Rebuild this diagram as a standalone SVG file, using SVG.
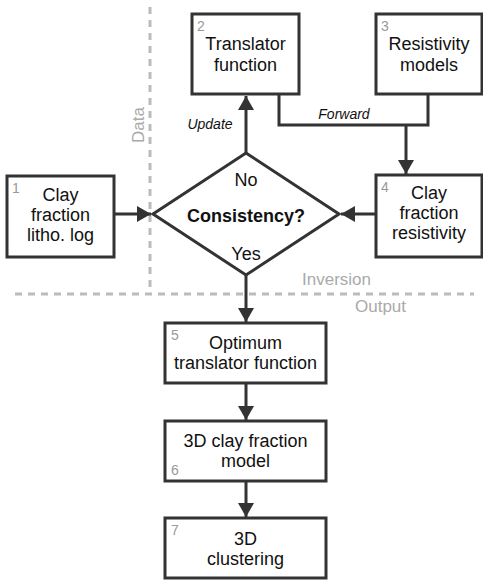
<svg xmlns="http://www.w3.org/2000/svg" width="483" height="581" viewBox="0 0 483 581">
<defs>
<style>
.box{fill:#fff;stroke:#333;stroke-width:3}
.t{font-family:"Liberation Sans",Arial,sans-serif;font-size:18px;fill:#111;text-anchor:middle}
.n{font-family:"Liberation Sans",Arial,sans-serif;font-size:14px;fill:#999}
.lab{font-family:"Liberation Sans",Arial,sans-serif;font-size:14px;font-style:italic;fill:#111;text-anchor:middle}
.zone{font-family:"Liberation Sans",Arial,sans-serif;font-size:17px;fill:#aaa}
.dash{stroke:#bbb;stroke-width:3;stroke-dasharray:7 6;fill:none}
.c{stroke:#333;stroke-width:3;fill:none}
</style>
<marker id="a" viewBox="0 0 14 16" refX="14" refY="8" markerWidth="14" markerHeight="16" orient="auto" markerUnits="userSpaceOnUse">
<path d="M0,0 L14,8 L0,16 z" fill="#333"/>
</marker>
</defs>
<g id="zones">
<line class="dash" x1="150" y1="7" x2="150" y2="292"/>
<line class="dash" x1="15" y1="294" x2="474" y2="294"/>
<text class="zone" transform="translate(144,125) rotate(-90)" text-anchor="middle">Data</text>
<text class="zone" x="302" y="285">Inversion</text>
<text class="zone" x="355" y="312">Output</text>
</g>
<g id="connectors">
<line class="c" x1="246" y1="153" x2="246" y2="96" marker-end="url(#a)"/>
<polyline class="c" points="279,94 279,125 428,125 428,94"/>
<line class="c" x1="406" y1="125" x2="406" y2="174" marker-end="url(#a)"/>
<line class="c" x1="114" y1="214" x2="151" y2="214" marker-end="url(#a)"/>
<line class="c" x1="376" y1="214" x2="341" y2="214" marker-end="url(#a)"/>
<line class="c" x1="246" y1="275" x2="246" y2="322" marker-end="url(#a)"/>
<line class="c" x1="246" y1="383" x2="246" y2="420" marker-end="url(#a)"/>
<line class="c" x1="246" y1="481" x2="246" y2="517" marker-end="url(#a)"/>
<text class="lab" x="210" y="129">Update</text>
<text class="lab" x="344" y="119">Forward</text>
</g>
<g id="n1">
<rect class="box" x="7" y="176" width="107" height="81"/>
<text class="n" x="12" y="193">1</text>
<text class="t" x="60.5" y="201">Clay</text>
<text class="t" x="60.5" y="221">fraction</text>
<text class="t" x="60.5" y="241">litho. log</text>
</g>
<g id="n2">
<rect class="box" x="192" y="14" width="107" height="80"/>
<text class="n" x="197" y="31">2</text>
<text class="t" x="245.5" y="50">Translator</text>
<text class="t" x="245.5" y="71">function</text>
</g>
<g id="n3">
<rect class="box" x="376" y="14" width="106" height="80"/>
<text class="n" x="381" y="31">3</text>
<text class="t" x="429" y="50">Resistivity</text>
<text class="t" x="429" y="71">models</text>
</g>
<g id="n4">
<rect class="box" x="376" y="175" width="106" height="82"/>
<text class="n" x="381" y="192">4</text>
<text class="t" x="429" y="199">Clay</text>
<text class="t" x="429" y="219">fraction</text>
<text class="t" x="429" y="239">resistivity</text>
</g>
<g id="decision">
<polygon points="246,153 339,214 246,275 153,214" fill="#fff" stroke="#333" stroke-width="3"/>
<text class="t" x="246" y="186">No</text>
<text class="t" x="246" y="222" font-weight="bold">Consistency?</text>
<text class="t" x="246" y="260">Yes</text>
</g>
<g id="n5">
<rect class="box" x="165" y="323" width="161" height="60"/>
<text class="n" x="171" y="340">5</text>
<text class="t" x="245.5" y="349">Optimum</text>
<text class="t" x="245.5" y="369">translator function</text>
</g>
<g id="n6">
<rect class="box" x="165" y="421" width="161" height="60"/>
<text class="n" x="171" y="475">6</text>
<text class="t" x="245.5" y="447">3D clay fraction</text>
<text class="t" x="245.5" y="467">model</text>
</g>
<g id="n7">
<rect class="box" x="165" y="518" width="161" height="60"/>
<text class="n" x="171" y="535">7</text>
<text class="t" x="245.5" y="545">3D</text>
<text class="t" x="245.5" y="565">clustering</text>
</g>
</svg>
